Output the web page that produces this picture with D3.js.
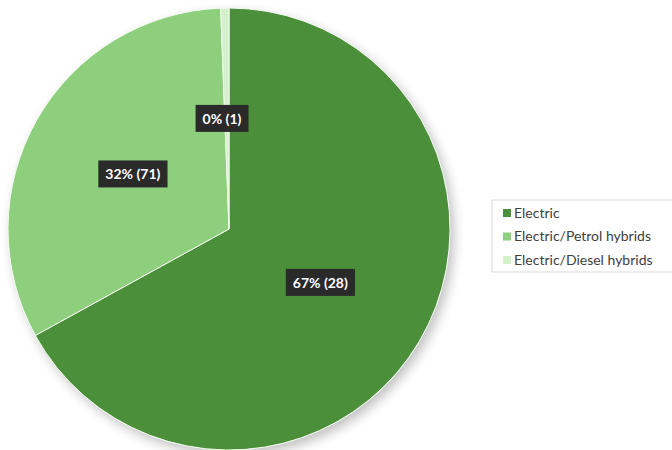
<!DOCTYPE html>
<html>
<head>
<meta charset="utf-8">
<script src="https://cdn.jsdelivr.net/npm/d3@7"></script>
<style>
  body { margin: 0; background: #fff; }
  svg { display: block; font-family: Lato, "Open Sans", sans-serif; }
</style>
</head>
<body>
<div id="chart"></div>
<script>
const width = 672;
const height = 450;

// Data
const categories = ["Electric", "Electric/Petrol hybrids", "Electric/Diesel hybrids"];
const shares = [67, 32.4, 0.6];
const labels = ["67% (28)", "32% (71)", "0% (1)"];
const colors = ["#4c8f3b", "#8ecf7e", "#d4f1cb"];

const svg = d3.select("#chart").append("svg")
    .attr("width", width)
    .attr("height", height);

const defs = svg.append("defs");
const shadow = defs.append("filter")
    .attr("id", "shadow")
    .attr("x", "-20%").attr("y", "-20%")
    .attr("width", "140%").attr("height", "140%");
shadow.append("feGaussianBlur").attr("in", "SourceAlpha").attr("stdDeviation", 6);
shadow.append("feOffset").attr("dx", 4).attr("dy", 5).attr("result", "blur");
shadow.append("feComponentTransfer").append("feFuncA").attr("type", "linear").attr("slope", 0.25);
const merge = shadow.append("feMerge");
merge.append("feMergeNode");
merge.append("feMergeNode").attr("in", "SourceGraphic");

const cx = 229, cy = 229, r = 221;

const pie = d3.pie().sort(null).value(d => d);
const arcs = pie(shares);
const arc = d3.arc().innerRadius(0).outerRadius(r);

const g = svg.append("g").attr("transform", `translate(${cx},${cy})`);

g.append("circle").attr("r", r).attr("fill", "#fff").attr("filter", "url(#shadow)");

g.selectAll("path")
    .data(arcs)
    .join("path")
    .attr("d", arc)
    .attr("fill", (d, i) => colors[i])
    .attr("stroke", "#f4fbf1")
    .attr("stroke-width", 1);

// label positions (fraction of radius along slice mid-angle)
const labelRadius = [0.48, 0.5, 0.48];
const labelArc = (d, i) => d3.arc().innerRadius(r * labelRadius[i]).outerRadius(r * labelRadius[i]).centroid(d);

const lab = g.selectAll("g.lab")
    .data(arcs)
    .join("g")
    .attr("class", "lab")
    .attr("transform", (d, i) => {
        let [x, y] = labelArc(d, i);
        if (i === 2) { x = -7; y = -110; }
        return `translate(${x},${y})`;
    });

lab.append("text")
    .attr("text-anchor", "middle")
    .attr("dy", "0.35em")
    .attr("fill", "#fff")
    .style("font-size", "14px")
    .style("font-weight", "bold")
    .text((d, i) => labels[i]);

lab.each(function () {
    const t = d3.select(this).select("text");
    const b = t.node().getBBox();
    d3.select(this).insert("rect", "text")
        .attr("x", b.x - 7).attr("y", b.y - 5)
        .attr("width", b.width + 14).attr("height", b.height + 10)
        .attr("fill", "#2a2a2a");
});

// Legend
const legend = svg.append("g").attr("transform", "translate(492,200)");
legend.append("rect")
    .attr("width", 186).attr("height", 72)
    .attr("fill", "#fff")
    .attr("stroke", "#d9d9d9");

const item = legend.selectAll("g.item")
    .data(categories)
    .join("g")
    .attr("class", "item")
    .attr("transform", (d, i) => `translate(11,${13 + i * 23.5})`);

item.append("rect")
    .attr("x", 0).attr("y", -4)
    .attr("width", 8).attr("height", 8)
    .attr("fill", (d, i) => colors[i]);

item.append("text")
    .attr("x", 11)
    .attr("dy", "0.35em")
    .attr("fill", "#404040")
    .style("font-size", "14px")
    .text(d => d);
</script>
</body>
</html>
